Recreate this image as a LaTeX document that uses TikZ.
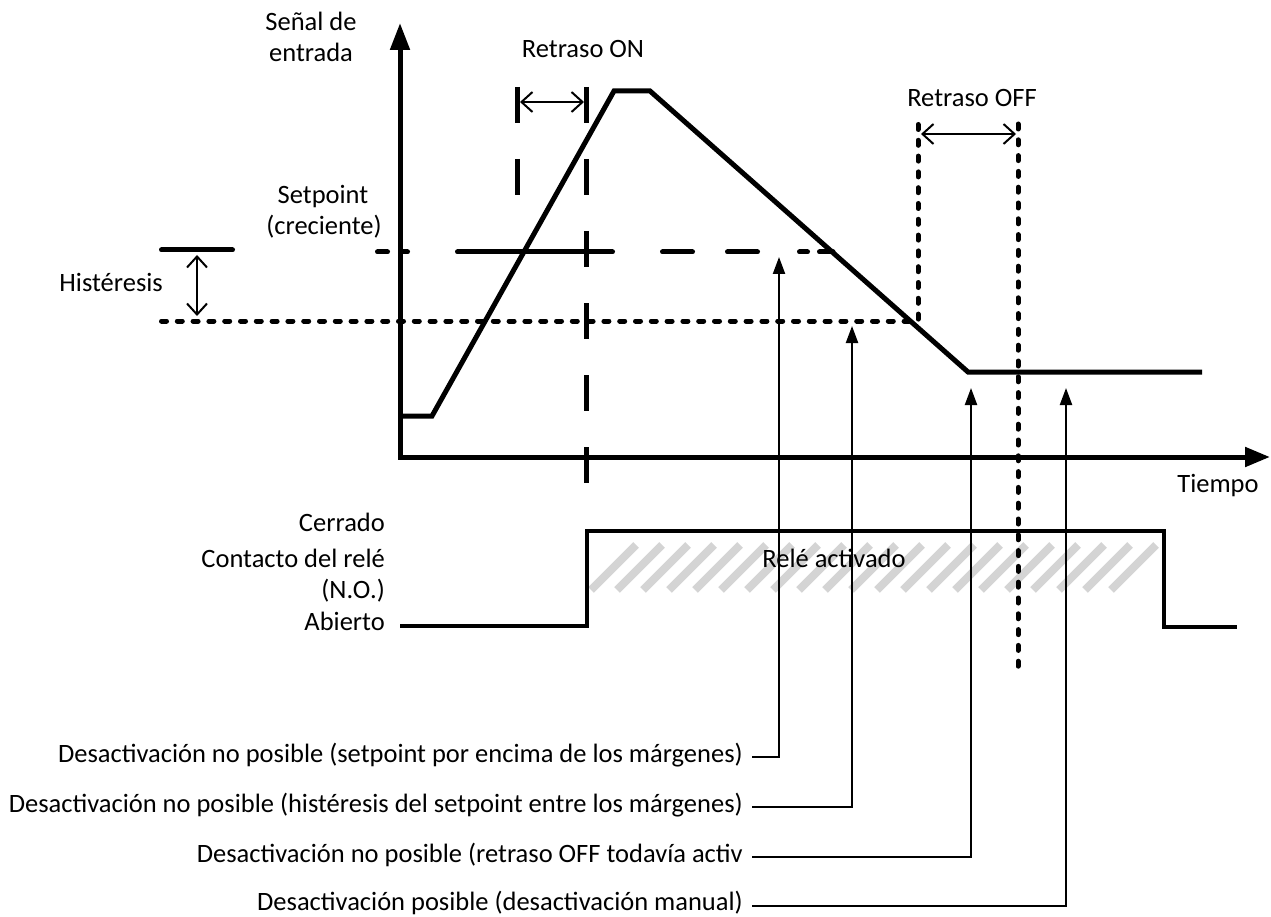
\documentclass[tikz,border=0pt]{standalone}
\usepackage{fontspec}
\setmainfont{Carlito}
\usetikzlibrary{arrows.meta}
\definecolor{hatchgray}{RGB}{212,212,212}
\begin{document}
\begin{tikzpicture}[x=1pt,y=-1pt,
  txt/.style={font=\fontsize{26.5}{31}\selectfont, inner sep=0pt},
  sig/.style={line width=5pt, line join=miter},
  axisline/.style={line width=5pt, line join=miter, {Triangle[length=27pt,width=19pt]}-{Triangle[length=25pt,width=19pt]}},
  longdash/.style={line width=5pt, dash pattern=on 36pt off 36pt},
  dotline/.style={line width=5pt, line cap=round, dash pattern=on 5pt off 10.8pt},
  spseg/.style={line width=5pt, line cap=round},
  dimarrow/.style={line width=2pt, {Straight Barb[length=11pt,width=20pt]}-{Straight Barb[length=11pt,width=20pt]}},
  relay/.style={line width=4.5pt, line join=miter},
  stripe/.style={line width=8pt, draw=hatchgray},
  conn/.style={line width=2.2pt, -{Triangle[length=17pt,width=12pt]}},
]
\useasboundingbox (0,0) rectangle (1271,917);

% hatch of the active relay zone
\foreach \i in {0,...,20}
  \draw[stripe] ({591+26*\i},590) -- ({636+26*\i},545);

% axes
\draw[axisline] (400,23) -- (400,457) -- (1270,457);

% setpoint (rising) line pieces
\draw[spseg] (377.5,252) -- (387.5,252);
\draw[spseg] (400.5,252) -- (407.5,252);
\draw[spseg] (457.5,252) -- (612.5,252);
\draw[spseg] (662.5,252) -- (692.5,252);
\draw[spseg] (727.5,252) -- (757.5,252);
\draw[spseg] (799.5,252) -- (807.5,252);
\draw[spseg] (819.5,252) -- (833,252);

% hysteresis bar and dotted lower line + OFF delay start
\draw[spseg] (161.5,250) -- (232.5,250);
\draw[dotline] (161.5,321) -- (918,321) -- (918,124);
\draw[dotline] (1018,124) -- (1018,670);

% ON delay lines
\draw[longdash] (517,87) -- (517,195);
\draw[longdash] (586,87) -- (586,483);

% dimension arrows
\draw[dimarrow] (197,255) -- (197,316);
\draw[dimarrow] (520,102) -- (584,102);
\draw[dimarrow] (921,134) -- (1016,134);

% input signal
\draw[sig] (400,416) -- (432,416) -- (614,91) -- (650,91) -- (968,372) -- (1202,372);

% relay contact
\draw[relay] (400,626) -- (587,626) -- (587,531) -- (1164,531) -- (1164,627) -- (1237,627);

% labels
\node[txt, anchor=base] (sen1) at (311,31) {Señal de};
\node[txt, anchor=base] (sen2) at (311,62) {entrada};
\node[txt, anchor=base] (sp1) at (323,204) {Setpoint};
\node[txt, anchor=base] (sp2) at (324,235) {(creciente)};
\node[txt, anchor=base east] (hys) at (163,291) {Histéresis};
\node[txt, anchor=base] (ron) at (583,58) {Retraso ON};
\node[txt, anchor=base] (roff) at (972,107) {Retraso OFF};
\node[txt, anchor=base] (tiempo) at (1218,492) {Tiempo};
\node[txt, anchor=base] (rele) at (834,567) {Relé activado};
\node[txt, anchor=base east] (cer) at (385,531) {Cerrado};
\node[txt, anchor=base east] (con) at (385,567) {Contacto del relé};
\node[txt, anchor=base east] (nor) at (385,598) {(N.O.)};
\node[txt, anchor=base east] (abi) at (385,630) {Abierto};

\node[txt, anchor=base east] (d1) at (743,762) {Desactivación no posible (setpoint por encima de los márgenes)};
\node[txt, anchor=base east] (d2) at (743,812) {Desactivación no posible (histéresis del setpoint entre los márgenes)};
\node[txt, anchor=base east] (d3) at (743,862) {Desactivación no posible (retraso OFF todavía activ};
\node[txt, anchor=base east] (d4) at (743,910.5) {Desactivación posible (desactivación manual)};

% arrow targets
\coordinate (a1) at (779,257);
\coordinate (a2) at (852,326);
\coordinate (a3) at (971,388);
\coordinate (a4) at (1066,388);

\draw[conn] ([shift={(9pt,5pt)}]d1.base east) -| (a1);
\draw[conn] ([shift={(9pt,5pt)}]d2.base east) -| (a2);
\draw[conn] ([shift={(9pt,5pt)}]d3.base east) -| (a3);
\draw[conn] ([shift={(9pt,4.5pt)}]d4.base east) -| (a4);
\end{tikzpicture}
\end{document}
